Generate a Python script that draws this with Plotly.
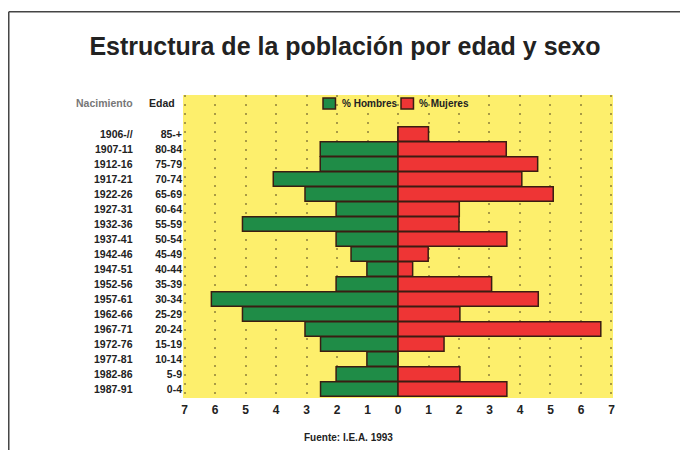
import plotly.graph_objects as go

# grupos de edad, de abajo (0-4) hacia arriba (85 y mas)
edades = ["0-4", "5-9", "10-14", "15-19", "20-24", "25-29", "30-34", "35-39", "40-44",
          "45-49", "50-54", "55-59", "60-64", "65-69", "70-74", "75-79", "80-84", "85-+"]
nacimiento = ["1987-91", "1982-86", "1977-81", "1972-76", "1967-71", "1962-66", "1957-61",
              "1952-56", "1947-51", "1942-46", "1937-41", "1932-36", "1927-31", "1922-26",
              "1917-21", "1912-16", "1907-11", "1906-//"]
hombres = [2.54, 2.03, 1.02, 2.54, 3.05, 5.10, 6.12, 2.03, 1.02,
           1.54, 2.03, 5.10, 2.03, 3.05, 4.09, 2.55, 2.55, 0.0]
mujeres = [3.57, 2.03, 0.0, 1.51, 6.65, 2.03, 4.60, 3.07, 0.48,
           0.99, 3.57, 2.00, 2.01, 5.09, 4.06, 4.58, 3.55, 1.00]
ticks_x = list(range(-7, 8))

filas = list(range(len(edades)))
fuente = "Liberation Sans, Arial, sans-serif"
borde = "#3a1c12"
verde = "#1f8c47"
rojo = "#ee3535"

fig = go.Figure()
fig.add_trace(go.Bar(y=filas, x=[-v for v in hombres], orientation="h", name="% Hombres",
                     marker=dict(color=verde, line=dict(color=borde, width=1.5))))
fig.add_trace(go.Bar(y=filas, x=mujeres, orientation="h", name="% Mujeres",
                     marker=dict(color=rojo, line=dict(color=borde, width=1.5))))

# columna de años de nacimiento
for i, txt in enumerate(nacimiento):
    fig.add_annotation(x=-0.112, xref="paper", y=i, yref="y", text=txt, showarrow=False,
                       xanchor="right", yanchor="middle",
                       font=dict(family=fuente, size=10.5, color="#222", weight="bold"))
fig.add_annotation(x=-0.112, xref="paper", y=19.1, yref="y", text="Nacimiento", showarrow=False,
                   xanchor="right", yanchor="middle",
                   font=dict(family=fuente, size=10.5, color="#777", weight="bold"))
fig.add_annotation(x=-0.014, xref="paper", y=19.1, yref="y", text="Edad", showarrow=False,
                   xanchor="right", yanchor="middle",
                   font=dict(family=fuente, size=10.5, color="#222", weight="bold"))
fig.add_annotation(x=0.386, xref="paper", y=-0.129, yref="paper", text="Fuente: I.E.A. 1993",
                   showarrow=False, yanchor="middle",
                   font=dict(family=fuente, size=10, color="#222", weight="bold"))

# leyenda dibujada a mano (cuadro pegado al texto, como en el original)
leyenda = [("% Hombres", verde, 0.3256, 0.365), ("% Mujeres", rojo, 0.507, 0.544)]
for nombre, color, xc, xt in leyenda:
    fig.add_shape(type="rect", xref="paper", yref="paper", x0=xc, x1=xc + 0.029, y0=0.954, y1=0.990,
                  fillcolor=color, line=dict(color=borde, width=1.5))
    fig.add_annotation(x=xt, xref="paper", y=0.972, yref="paper", text=nombre, showarrow=False,
                       xanchor="left", yanchor="middle",
                       font=dict(family=fuente, size=10, color="#222", weight="bold"))

# marco del grafico: solo se ven el borde superior y el izquierdo
fig.add_shape(type="line", xref="paper", yref="paper", x0=-0.4052, x1=1.3, y0=1.275, y1=1.275,
              line=dict(color="#444", width=1.5))
fig.add_shape(type="line", xref="paper", yref="paper", x0=-0.4052, x1=-0.4052, y0=-0.4, y1=1.275,
              line=dict(color="#444", width=1.5))

fig.update_layout(
    width=672, height=442,
    margin=dict(l=175, r=67, t=87, b=52),
    paper_bgcolor="white", plot_bgcolor="#fdef6c",
    barmode="overlay", bargap=0.02,
    title=dict(text="Estructura de la población por edad y sexo", x=0.5015, xanchor="center",
               y=0.914, yanchor="middle", font=dict(family=fuente, size=25, color="#222", weight="bold")),
    showlegend=False,
)
fig.update_xaxes(range=[-7.05, 7.05], tickvals=ticks_x, ticktext=[str(abs(t)) for t in ticks_x],
                 showgrid=True, gridcolor="#a89a45", griddash="2px,7px", gridwidth=1.5, zeroline=False,
                 tickfont=dict(family=fuente, size=12, color="#222", weight="bold"), ticklen=0,
                 ticklabelstandoff=3)
fig.update_yaxes(range=[-0.6, 19.6], tickvals=filas, ticktext=edades, showgrid=False, zeroline=False,
                 tickfont=dict(family=fuente, size=10.5, color="#222", weight="bold"), ticklen=0)

fig.write_html("out.html")
